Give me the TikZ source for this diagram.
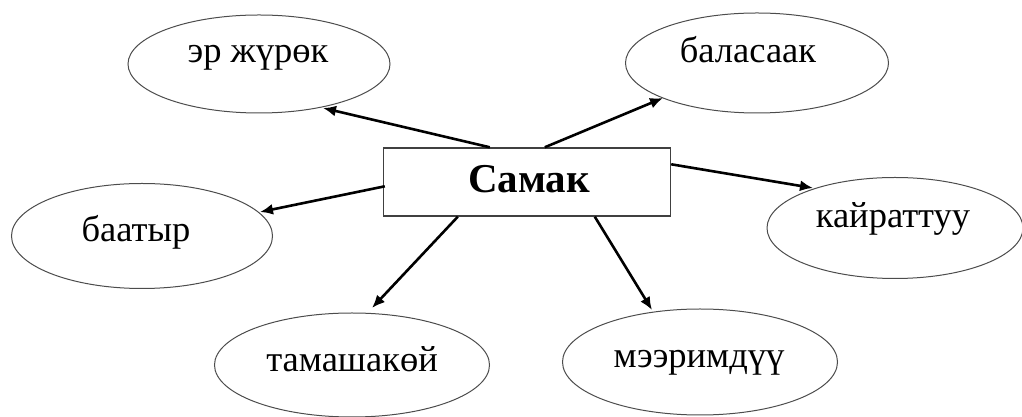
\documentclass[tikz,border=0pt]{standalone}
\usepackage{fontspec}
\setmainfont{Liberation Serif}
\usetikzlibrary{shapes.geometric,arrows.meta,calc}
\tikzset{
  oval/.style={ellipse, draw=gray!60!black, line width=1pt, inner sep=0pt},
  word/.style={anchor=base, inner sep=0pt, font=\fontsize{36.5}{42}\selectfont},
  centerbox/.style={rectangle, draw=gray!50!black, line width=1.4pt, minimum width=287pt, minimum height=68pt, inner sep=0pt},
  link/.style={line width=2.6pt, -{Latex[length=13pt,width=11pt]}}
}
\begin{document}
\begin{tikzpicture}[x=1pt,y=1pt]
\useasboundingbox (0,0) rectangle (1022,417);
\node[oval, minimum width=262pt, minimum height=98pt] (e1) at (259,353) {};
\node[oval, minimum width=263pt, minimum height=100pt] (e2) at (757,354) {};
\node[oval, minimum width=256pt, minimum height=101pt] (e3) at (895,189) {};
\node[oval, minimum width=261pt, minimum height=105pt] (e4) at (142,181) {};
\node[oval, minimum width=275pt, minimum height=104pt] (e5) at (352,52) {};
\node[oval, minimum width=275pt, minimum height=106pt] (e6) at (700,55) {};
\node[word] (t1) at (258,354) {эр жүрөк};
\node[word] (t2) at (748,354) {баласаак};
\node[word] (t3) at (893,189) {кайраттуу};
\node[word] (t4) at (136,175) {баатыр};
\node[word] (t5) at (352,45) {тамашакөй};
\node[word] (t6) at (699,49) {мээримдүү};
\node[centerbox] (box) at (527,235) {};
\node[anchor=base, inner sep=0pt, font=\fontsize{41}{48}\selectfont\bfseries] (tc) at (529,224) {Самак};
\draw[link] ($(box.north west)+(107,0)$) -- ($(e1.center)+(64,-44)$);
\draw[link] ($(box.north west)+(162,0)$) -- ($(e2.center)+(-94,-35)$);
\draw[link] ($(box.north east)+(0,-17)$) -- ($(e3.center)+(-82,40)$);
\draw[link] ($(box.north west)+(2,-39)$) -- ($(e4.center)+(118,24)$);
\draw[link] ($(box.south west)+(75,0)$) -- ($(e5.center)+(20,57)$);
\draw[link] ($(box.south west)+(212,0)$) -- ($(e6.center)+(-48,52)$);
\end{tikzpicture}
\end{document}
